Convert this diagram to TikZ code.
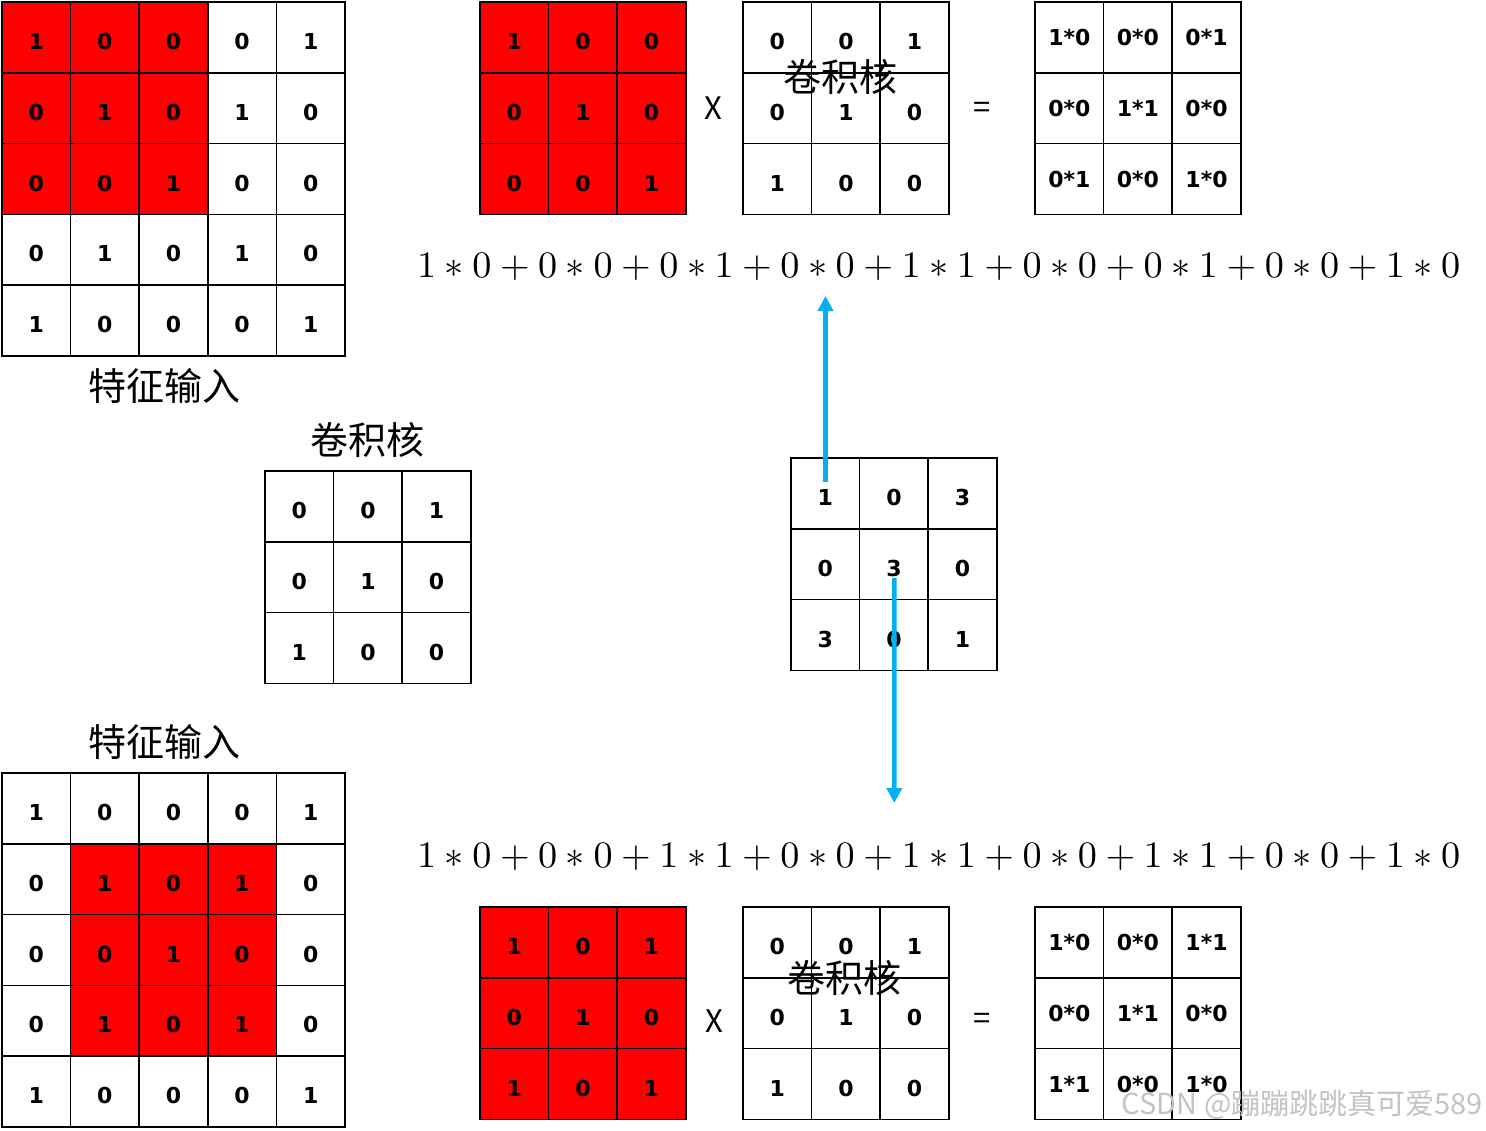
\documentclass[tikz,border=0pt]{standalone}
\usepackage{fontspec}
\usepackage{graphicx}
\usetikzlibrary{arrows.meta}
\newfontfamily\numfont{DejaVu Sans}
\newfontfamily\cjkfont{Noto Sans CJK SC}
\definecolor{cellred}{RGB}{255,0,0}
\definecolor{arrowblue}{RGB}{0,176,240}
\definecolor{markgray}{RGB}{195,195,195}
\begin{document}
\begin{tikzpicture}[x=1pt,y=-1pt,
	cell/.style={draw=black,line width=1.6pt,minimum width=68.6pt,minimum height=70.8pt,inner sep=0pt,text height=24pt,text depth=0pt,font=\numfont\bfseries\fontsize{22}{22}\selectfont},
	redcell/.style={cell,fill=cellred},
	prodcell/.style={cell,text height=16pt},
	title/.style={font=\cjkfont\fontsize{38}{38}\selectfont},
	sign/.style={font=\cjkfont\fontsize{31}{31}\selectfont},
	sumline/.style={anchor=base west,inner sep=0pt},
	flow/.style={draw=arrowblue,line width=4.4pt,-{Triangle[width=15pt,length=15pt]}}]
	\useasboundingbox (0,0) rectangle (1486,1130);
	% top input
	\node[redcell] (t11) at (36.3,37.4) {1};
	\node[redcell] (t12) at (104.9,37.4) {0};
	\node[redcell] (t13) at (173.5,37.4) {0};
	\node[cell] (t14) at (242.1,37.4) {0};
	\node[cell] (t15) at (310.7,37.4) {1};
	\node[redcell] (t21) at (36.3,108.2) {0};
	\node[redcell] (t22) at (104.9,108.2) {1};
	\node[redcell] (t23) at (173.5,108.2) {0};
	\node[cell] (t24) at (242.1,108.2) {1};
	\node[cell] (t25) at (310.7,108.2) {0};
	\node[redcell] (t31) at (36.3,179) {0};
	\node[redcell] (t32) at (104.9,179) {0};
	\node[redcell] (t33) at (173.5,179) {1};
	\node[cell] (t34) at (242.1,179) {0};
	\node[cell] (t35) at (310.7,179) {0};
	\node[cell] (t41) at (36.3,249.8) {0};
	\node[cell] (t42) at (104.9,249.8) {1};
	\node[cell] (t43) at (173.5,249.8) {0};
	\node[cell] (t44) at (242.1,249.8) {1};
	\node[cell] (t45) at (310.7,249.8) {0};
	\node[cell] (t51) at (36.3,320.6) {1};
	\node[cell] (t52) at (104.9,320.6) {0};
	\node[cell] (t53) at (173.5,320.6) {0};
	\node[cell] (t54) at (242.1,320.6) {0};
	\node[cell] (t55) at (310.7,320.6) {1};
	\node[title] (tlabel) at (164,386) {特征输入};
	% top patch, kernel and products
	\node[redcell] (tp11) at (514.3,37.4) {1};
	\node[redcell] (tp12) at (582.9,37.4) {0};
	\node[redcell] (tp13) at (651.5,37.4) {0};
	\node[redcell] (tp21) at (514.3,108.2) {0};
	\node[redcell] (tp22) at (582.9,108.2) {1};
	\node[redcell] (tp23) at (651.5,108.2) {0};
	\node[redcell] (tp31) at (514.3,179) {0};
	\node[redcell] (tp32) at (582.9,179) {0};
	\node[redcell] (tp33) at (651.5,179) {1};
	\node[sign] (ttimes) at (713.5,108.5) {X};
	\node[cell] (tk11) at (777.3,37.4) {0};
	\node[cell] (tk12) at (845.9,37.4) {0};
	\node[cell] (tk13) at (914.5,37.4) {1};
	\node[cell] (tk21) at (777.3,108.2) {0};
	\node[cell] (tk22) at (845.9,108.2) {1};
	\node[cell] (tk23) at (914.5,108.2) {0};
	\node[cell] (tk31) at (777.3,179) {1};
	\node[cell] (tk32) at (845.9,179) {0};
	\node[cell] (tk33) at (914.5,179) {0};
	\node[title] (tklabel) at (840,77) {卷积核};
	\node[sign] (tequal) at (982,110) {=};
	\node[prodcell] (tm11) at (1069.3,37.4) {1*0};
	\node[prodcell] (tm12) at (1137.9,37.4) {0*0};
	\node[prodcell] (tm13) at (1206.5,37.4) {0*1};
	\node[prodcell] (tm21) at (1069.3,108.2) {0*0};
	\node[prodcell] (tm22) at (1137.9,108.2) {1*1};
	\node[prodcell] (tm23) at (1206.5,108.2) {0*0};
	\node[prodcell] (tm31) at (1069.3,179) {0*1};
	\node[prodcell] (tm32) at (1137.9,179) {0*0};
	\node[prodcell] (tm33) at (1206.5,179) {1*0};
	\node[sumline] (tsum) at (417,277) {\resizebox{1043pt}{24pt}{$1*0+0*0+0*1+0*0+1*1+0*0+0*1+0*0+1*0$}};
	% kernel
	\node[title] (klabel) at (367,440) {卷积核};
	\node[cell] (k11) at (299.3,506.4) {0};
	\node[cell] (k12) at (367.9,506.4) {0};
	\node[cell] (k13) at (436.5,506.4) {1};
	\node[cell] (k21) at (299.3,577.2) {0};
	\node[cell] (k22) at (367.9,577.2) {1};
	\node[cell] (k23) at (436.5,577.2) {0};
	\node[cell] (k31) at (299.3,648) {1};
	\node[cell] (k32) at (367.9,648) {0};
	\node[cell] (k33) at (436.5,648) {0};
	% result
	\node[cell] (r11) at (825.3,493.4) {1};
	\node[cell] (r12) at (893.9,493.4) {0};
	\node[cell] (r13) at (962.5,493.4) {3};
	\node[cell] (r21) at (825.3,564.2) {0};
	\node[cell] (r22) at (893.9,564.2) {3};
	\node[cell] (r23) at (962.5,564.2) {0};
	\node[cell] (r31) at (825.3,635) {3};
	\node[cell] (r32) at (893.9,635) {0};
	\node[cell] (r33) at (962.5,635) {1};
	% bottom input
	\node[title] (blabel) at (164,742) {特征输入};
	\node[cell] (b11) at (36.3,808.4) {1};
	\node[cell] (b12) at (104.9,808.4) {0};
	\node[cell] (b13) at (173.5,808.4) {0};
	\node[cell] (b14) at (242.1,808.4) {0};
	\node[cell] (b15) at (310.7,808.4) {1};
	\node[cell] (b21) at (36.3,879.2) {0};
	\node[redcell] (b22) at (104.9,879.2) {1};
	\node[redcell] (b23) at (173.5,879.2) {0};
	\node[redcell] (b24) at (242.1,879.2) {1};
	\node[cell] (b25) at (310.7,879.2) {0};
	\node[cell] (b31) at (36.3,950) {0};
	\node[redcell] (b32) at (104.9,950) {0};
	\node[redcell] (b33) at (173.5,950) {1};
	\node[redcell] (b34) at (242.1,950) {0};
	\node[cell] (b35) at (310.7,950) {0};
	\node[cell] (b41) at (36.3,1020.8) {0};
	\node[redcell] (b42) at (104.9,1020.8) {1};
	\node[redcell] (b43) at (173.5,1020.8) {0};
	\node[redcell] (b44) at (242.1,1020.8) {1};
	\node[cell] (b45) at (310.7,1020.8) {0};
	\node[cell] (b51) at (36.3,1091.6) {1};
	\node[cell] (b52) at (104.9,1091.6) {0};
	\node[cell] (b53) at (173.5,1091.6) {0};
	\node[cell] (b54) at (242.1,1091.6) {0};
	\node[cell] (b55) at (310.7,1091.6) {1};
	% bottom patch, kernel and products
	\node[sumline] (bsum) at (417,867) {\resizebox{1043pt}{24pt}{$1*0+0*0+1*1+0*0+1*1+0*0+1*1+0*0+1*0$}};
	\node[redcell] (bp11) at (514.3,942.4) {1};
	\node[redcell] (bp12) at (582.9,942.4) {0};
	\node[redcell] (bp13) at (651.5,942.4) {1};
	\node[redcell] (bp21) at (514.3,1013.2) {0};
	\node[redcell] (bp22) at (582.9,1013.2) {1};
	\node[redcell] (bp23) at (651.5,1013.2) {0};
	\node[redcell] (bp31) at (514.3,1084) {1};
	\node[redcell] (bp32) at (582.9,1084) {0};
	\node[redcell] (bp33) at (651.5,1084) {1};
	\node[sign] (btimes) at (714,1021) {X};
	\node[cell] (bk11) at (777.3,942.4) {0};
	\node[cell] (bk12) at (845.9,942.4) {0};
	\node[cell] (bk13) at (914.5,942.4) {1};
	\node[cell] (bk21) at (777.3,1013.2) {0};
	\node[cell] (bk22) at (845.9,1013.2) {1};
	\node[cell] (bk23) at (914.5,1013.2) {0};
	\node[cell] (bk31) at (777.3,1084) {1};
	\node[cell] (bk32) at (845.9,1084) {0};
	\node[cell] (bk33) at (914.5,1084) {0};
	\node[title] (bklabel) at (844,978) {卷积核};
	\node[sign] (bequal) at (982,1021) {=};
	\node[prodcell] (bm11) at (1069.3,942.4) {1*0};
	\node[prodcell] (bm12) at (1137.9,942.4) {0*0};
	\node[prodcell] (bm13) at (1206.5,942.4) {1*1};
	\node[prodcell] (bm21) at (1069.3,1013.2) {0*0};
	\node[prodcell] (bm22) at (1137.9,1013.2) {1*1};
	\node[prodcell] (bm23) at (1206.5,1013.2) {0*0};
	\node[prodcell] (bm31) at (1069.3,1084) {1*1};
	\node[prodcell] (bm32) at (1137.9,1084) {0*0};
	\node[prodcell] (bm33) at (1206.5,1084) {1*0};
	% arrows
	\coordinate (uptip) at (825.5,296);
	\coordinate (downtip) at (894.3,803);
	\draw[flow] ([xshift=0.2pt,yshift=11pt]r11.center) -- (uptip);
	\draw[flow] ([xshift=0.4pt,yshift=-14pt]r22.center) -- (downtip);
	\node[font=\cjkfont\fontsize{29}{29}\selectfont,text=markgray,anchor=east,inner sep=0pt] (mark) at (1483,1105) {CSDN @蹦蹦跳跳真可爱589};
\end{tikzpicture}
\end{document}
